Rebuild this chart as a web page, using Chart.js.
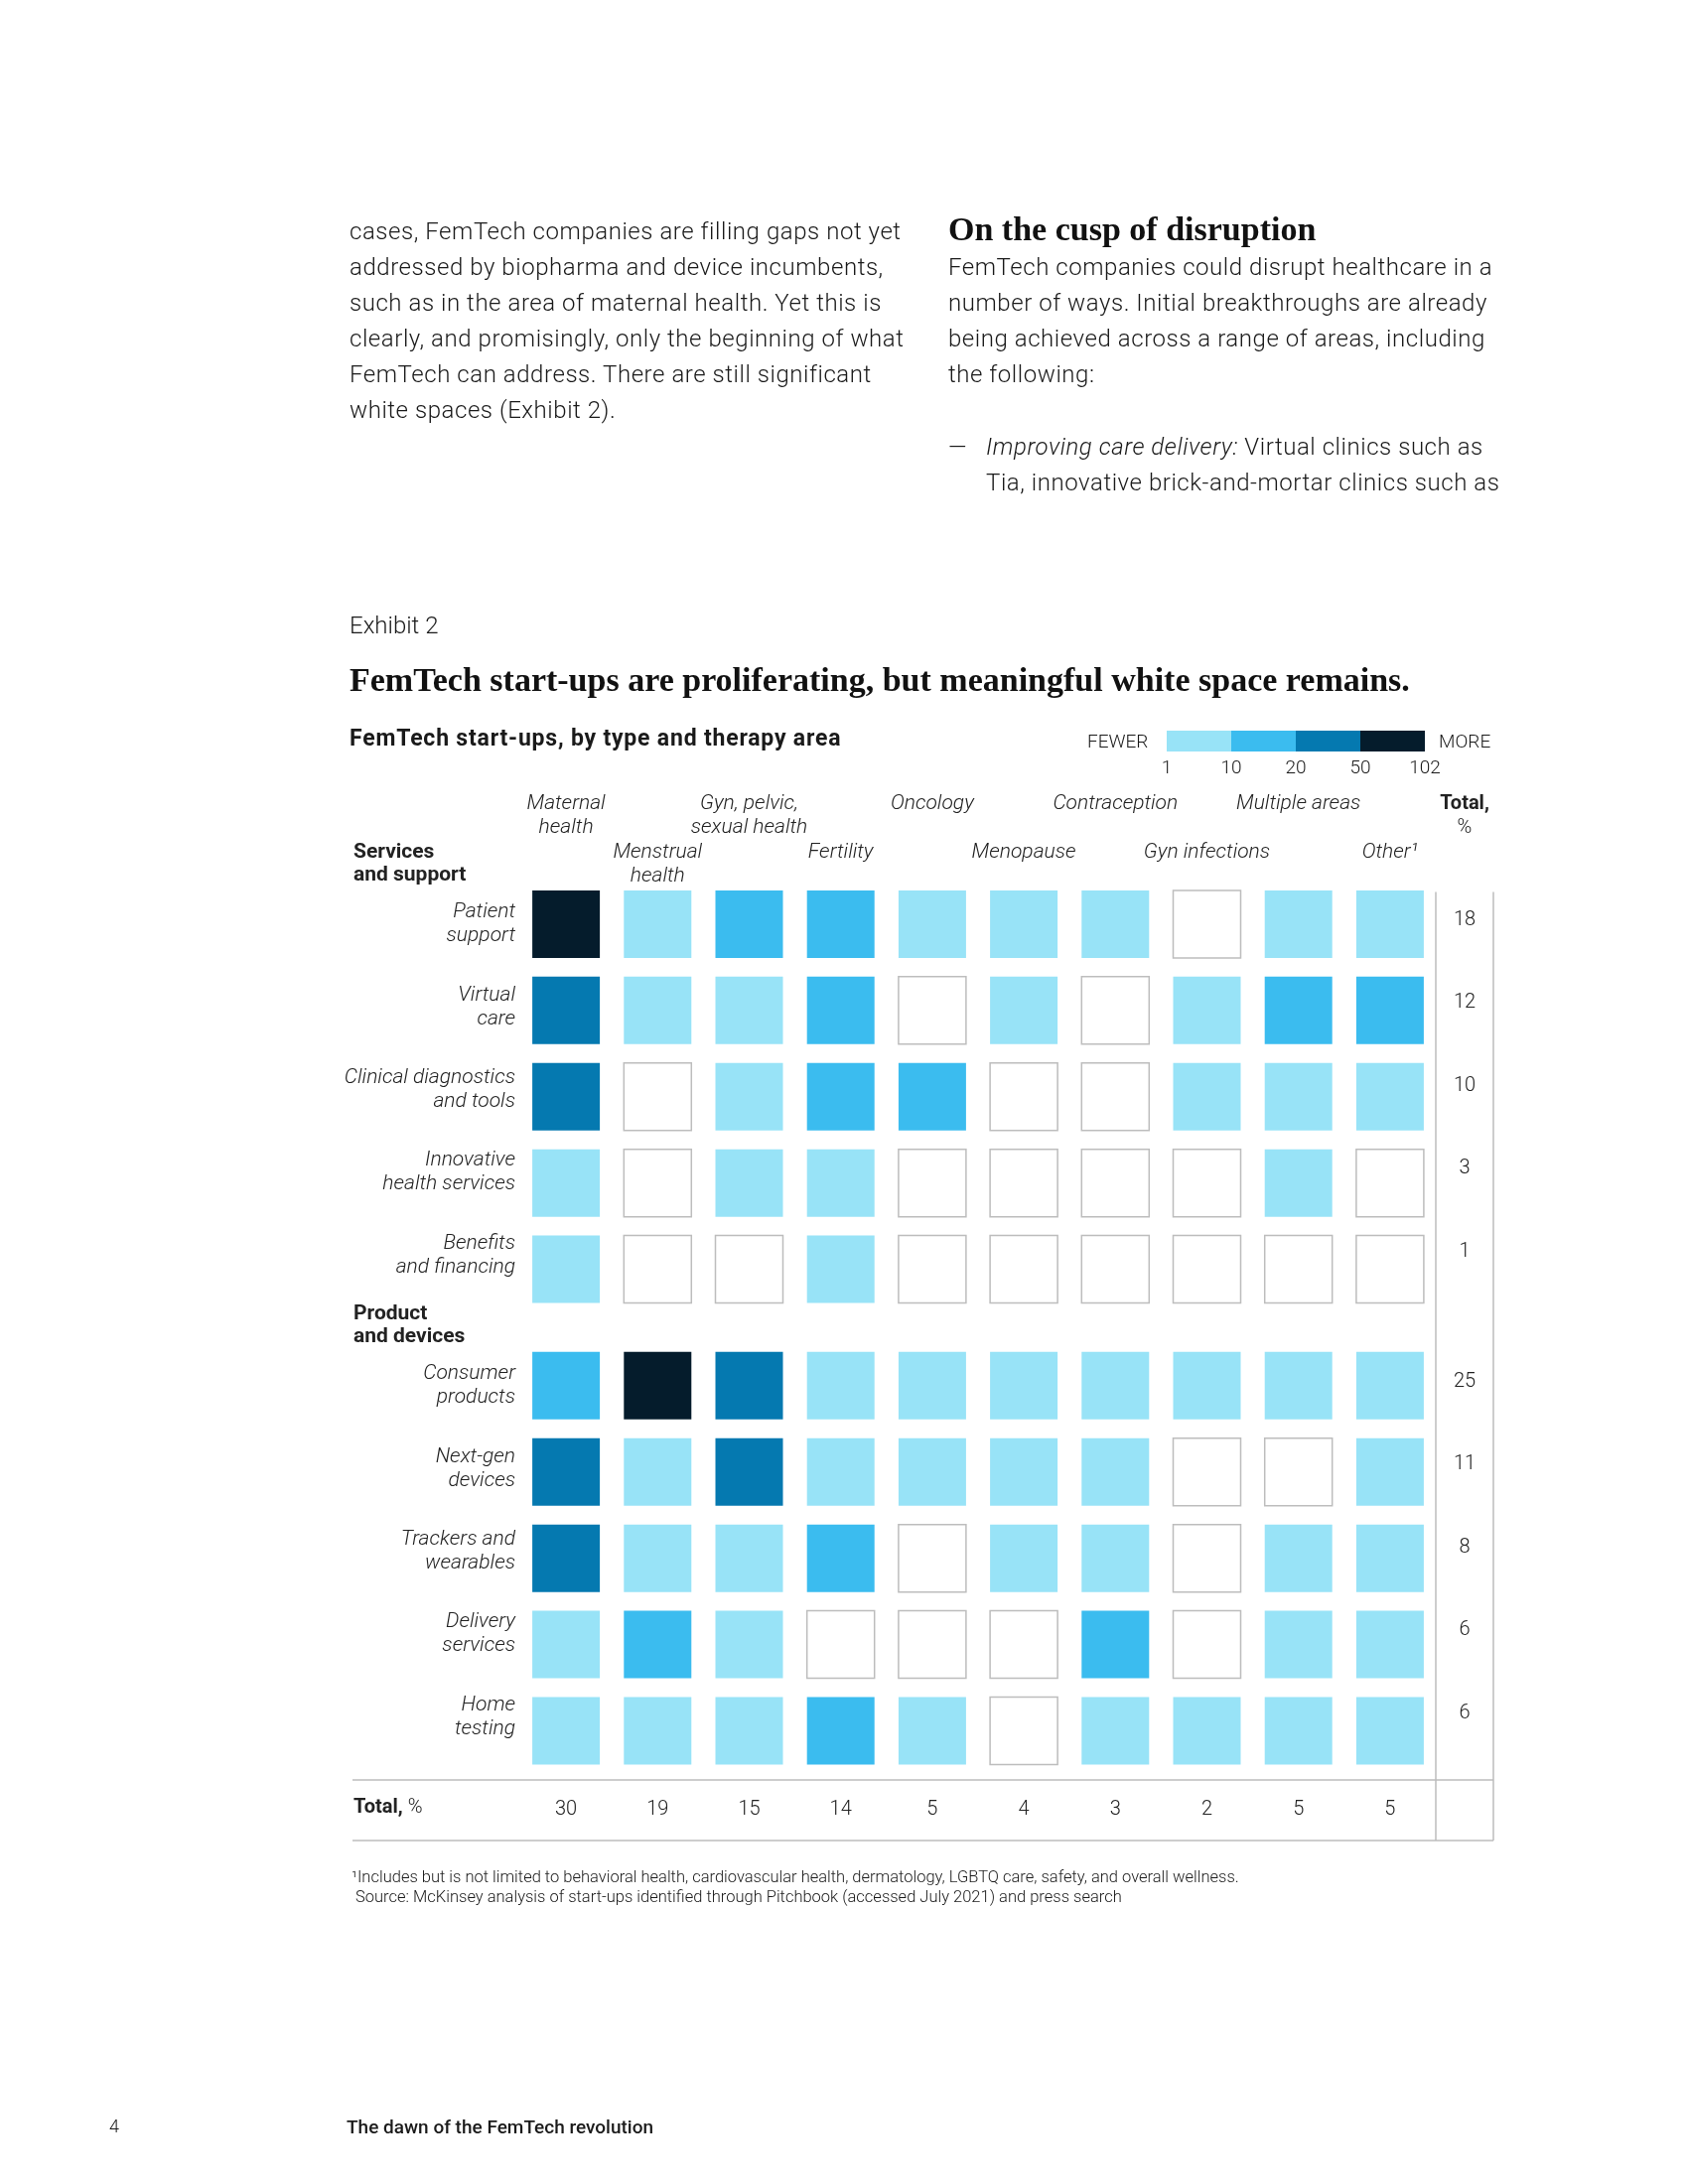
<!DOCTYPE html>
<html>
<head>
<meta charset="utf-8">
<script src="https://cdn.jsdelivr.net/npm/chart.js@4.4.1/dist/chart.umd.min.js"></script>
<style>
html, body { margin: 0; padding: 0; background: #fff; }
#page { position: relative; width: 1700px; height: 2200px; overflow: hidden;
        font-family: Roboto, "Liberation Sans", sans-serif; color: #1a1a1a; }
#page canvas { position: absolute; left: 0; top: 0; }
.t { position: absolute; white-space: nowrap; }
.body { font-size: 24px; line-height: 36px; font-weight: 300; letter-spacing: 0.55px; }
.serif { font-family: "Liberation Serif", serif; font-weight: bold; color: #111; }
#legend .seg { position: absolute; height: 21px; top: 736px; }
#legend .lab { position: absolute; top: 761px; font-size: 19px; font-weight: 300; transform: translateX(-50%); }
</style>
</head>
<body>
<div id="page">
  <canvas id="heat" width="1700" height="2200"></canvas>

  <div class="t body" style="left:352px; top:215px;">
    cases, FemTech companies are filling gaps not yet<br>
    addressed by biopharma and device incumbents,<br>
    such as in the area of maternal health. Yet this is<br>
    clearly, and promisingly, only the beginning of what<br>
    FemTech can address. There are still significant<br>
    white spaces (Exhibit 2).
  </div>

  <div class="t serif" style="left:955px; top:211px; font-size:34px; line-height:40px;">On the cusp of disruption</div>
  <div class="t body" style="left:955px; top:251px;">
    FemTech companies could disrupt healthcare in a<br>
    number of ways. Initial breakthroughs are already<br>
    being achieved across a range of areas, including<br>
    the following:
  </div>
  <div class="t body" style="left:955px; top:432px;">—</div>
  <div class="t body" style="left:993px; top:432px;">
    <i>Improving care delivery:</i> Virtual clinics such as<br>
    Tia, innovative brick-and-mortar clinics such as
  </div>

  <div class="t" style="left:352px; top:616px; font-size:24px; font-weight:300;">Exhibit 2</div>
  <div class="t serif" style="left:352px; top:666px; font-size:34px;">FemTech start-ups are proliferating, but meaningful white space remains.</div>
  <div class="t" style="left:352px; top:730px; font-size:23px; font-weight:bold; letter-spacing:0.8px;">FemTech start-ups, by type and therapy area</div>

  <div id="legend">
    <div class="t" style="left:1095px; top:735px; font-size:19px; font-weight:300;">FEWER</div>
    <div class="t" style="left:1449px; top:735px; font-size:19px; font-weight:300;">MORE</div>
  </div>

  <div class="t" style="left:354px; top:1881px; font-size:16.5px; font-weight:300; line-height:20px;">
    ¹Includes but is not limited to behavioral health, cardiovascular health, dermatology, LGBTQ care, safety, and overall wellness.<br>
    &nbsp;Source: McKinsey analysis of start-ups identified through Pitchbook (accessed July 2021) and press search
  </div>

  <div class="t" style="left:110px; top:2131px; font-size:18px; font-weight:300;">4</div>
  <div class="t" style="left:349px; top:2131px; font-size:19px; font-weight:500;">The dawn of the FemTech revolution</div>
</div>

<script>
// --- DATI ---
const therapyAreas = ['Maternal health', 'Menstrual health', 'Gyn, pelvic, sexual health', 'Fertility', 'Oncology',
                      'Menopause', 'Contraception', 'Gyn infections', 'Multiple areas', 'Other'];
const areaHeaderLines = [['Maternal', 'health'], ['Menstrual', 'health'], ['Gyn, pelvic,', 'sexual health'], ['Fertility'],
                         ['Oncology'], ['Menopause'], ['Contraception'], ['Gyn infections'], ['Multiple areas'], ['Other¹']];

const startupTypes = ['Patient support', 'Virtual care', 'Clinical diagnostics and tools', 'Innovative health services',
                      'Benefits and financing', 'Consumer products', 'Next-gen devices', 'Trackers and wearables',
                      'Delivery services', 'Home testing'];
const typeLabelLines = [['Patient', 'support'], ['Virtual', 'care'], ['Clinical diagnostics', 'and tools'],
                        ['Innovative', 'health services'], ['Benefits', 'and financing'], ['Consumer', 'products'],
                        ['Next-gen', 'devices'], ['Trackers and', 'wearables'], ['Delivery', 'services'], ['Home', 'testing']];
const typeGroup = [0, 0, 0, 0, 0, 1, 1, 1, 1, 1];
const groupLabelLines = [['Services', 'and support'], ['Product', 'and devices']];

// number of start-ups per type (rows) and therapy area (columns), estimated from the colour bins
const startupCounts = [
  [60,   6, 14, 15,  5, 6, 4, 0,  6,  8],  // Patient support
  [30,   5,  4, 13,  0, 3, 0, 3, 12, 13],  // Virtual care
  [28,   0,  5, 12, 11, 0, 0, 5,  4,  5],  // Clinical diagnostics
  [ 8,   0,  4,  5,  0, 0, 0, 0,  4,  0],  // Innovative health services
  [ 4,   0,  0,  3,  0, 0, 0, 0,  0,  0],  // Benefits and financing
  [16, 102, 30,  6,  5, 5, 3, 3,  2,  4],  // Consumer products
  [24,   5, 26,  7,  4, 5, 3, 0,  0,  3],  // Next-gen devices
  [22,   6,  5, 11,  0, 3, 2, 0,  3,  4],  // Trackers and wearables
  [ 6,  13,  8,  0,  0, 0, 10, 0, 2,  3],  // Delivery services
  [ 6,   5,  7, 12,  2, 0, 1, 2,  3,  4]   // Home testing
];

const rowTotalPct = [18, 12, 10, 3, 1, 25, 11, 8, 6, 6];
const colTotalPct = [30, 19, 15, 14, 5, 4, 3, 2, 5, 5];

const legendBreaks = [1, 10, 20, 50, 102];
const binColors = ['#98e3f7', '#3bbcef', '#0579b0', '#051c2c'];

// --- SUPPORTO ---
const groupGap = 0.35;      // extra row space before "Product and devices"
const cellSide = 68;
const lineGrey = '#bdbdbd';
const font = 'Roboto, "Liberation Sans", sans-serif';

function colorFor(v) {
  if (v <= 0) return '#ffffff';
  for (let i = 0; i < binColors.length; i++) {
    if (v < legendBreaks[i + 1]) return binColors[i];
  }
  return binColors[binColors.length - 1];
}

const rowPos = startupTypes.map((_, i) => i + typeGroup[i] * groupGap);

const points = [], fills = [], strokes = [], strokeWidths = [];
startupCounts.forEach((row, r) => {
  row.forEach((v, c) => {
    points.push({ x: c, y: rowPos[r] });
    fills.push(colorFor(v));
    strokes.push(v > 0 ? colorFor(v) : lineGrey);
    strokeWidths.push(v > 0 ? 0 : 1.5);
  });
});

// legend built from the bins
const legendEl = document.getElementById('legend');
const segW = 65, legLeft = 1175;
binColors.forEach((col, i) => {
  const s = document.createElement('div');
  s.className = 'seg';
  s.style.left = (legLeft + i * segW) + 'px';
  s.style.width = segW + 'px';
  s.style.background = col;
  legendEl.appendChild(s);
});
legendBreaks.forEach((b, i) => {
  const l = document.createElement('div');
  l.className = 'lab';
  l.style.left = (legLeft + i * segW) + 'px';
  l.textContent = b;
  legendEl.appendChild(l);
});

// --- TESTI E LINEE DEL GRAFICO ---
const labelsPlugin = {
  id: 'heatLabels',
  afterDraw(chart) {
    const { ctx, chartArea, scales: { x, y } } = chart;
    const pitch = y.getPixelForValue(1) - y.getPixelForValue(0);
    const totalX = 1475;
    const leftX = 356;
    const lineR = 1504;

    ctx.save();
    ctx.textBaseline = 'middle';
    ctx.fillStyle = '#222';

    // column headers, two staggered tiers
    ctx.font = 'italic 300 21px ' + font;
    ctx.textAlign = 'center';
    areaHeaderLines.forEach((lines, c) => {
      const cx = x.getPixelForValue(c);
      const y0 = chartArea.top - (c % 2 === 0 ? 78 : 29);
      lines.forEach((ln, k) => ctx.fillText(ln, cx, y0 + k * 24));
    });

    // Total, % header
    ctx.font = 'bold 20px ' + font;
    ctx.fillText('Total,', totalX, chartArea.top - 78);
    ctx.font = '300 20px ' + font;
    ctx.fillText('%', totalX, chartArea.top - 54);

    // group headers
    ctx.textAlign = 'left';
    ctx.font = 'bold 21px ' + font;
    [0, 1].forEach(g => {
      const first = typeGroup.indexOf(g);
      const gy = y.getPixelForValue(rowPos[first]);
      groupLabelLines[g].forEach((ln, k) => ctx.fillText(ln, leftX, gy - 72 + k * 23));
    });

    // row labels and row totals
    startupTypes.forEach((_, r) => {
      const first = typeGroup.indexOf(typeGroup[r]);
      const ty = y.getPixelForValue(rowPos[first]) + (r - first) * pitch * 0.96;
      ctx.font = 'italic 300 21px ' + font;
      ctx.textAlign = 'right';
      const lines = typeLabelLines[r];
      lines.forEach((ln, k) => ctx.fillText(ln, chartArea.left - 5, ty - 12 + k * 24));
      ctx.font = '300 20px ' + font;
      ctx.textAlign = 'center';
      ctx.fillText(String(rowTotalPct[r]), totalX, ty - 4);
    });

    // bottom total row
    const by = chartArea.bottom + 28;
    ctx.textAlign = 'left';
    ctx.font = 'bold 20px ' + font;
    ctx.fillText('Total,', leftX, by);
    const tw = ctx.measureText('Total, ').width;
    ctx.font = '300 20px ' + font;
    ctx.fillText('%', leftX + tw, by);
    ctx.textAlign = 'center';
    colTotalPct.forEach((v, c) => ctx.fillText(String(v), x.getPixelForValue(c), by + 2));

    // lines
    ctx.strokeStyle = lineGrey;
    ctx.lineWidth = 1.5;
    ctx.beginPath();
    ctx.moveTo(leftX - 1, chartArea.bottom); ctx.lineTo(lineR, chartArea.bottom);
    ctx.moveTo(leftX - 1, chartArea.bottom + 61); ctx.lineTo(lineR, chartArea.bottom + 61);
    ctx.moveTo(chartArea.right, chartArea.top + 11); ctx.lineTo(chartArea.right, chartArea.bottom + 61);
    ctx.moveTo(lineR, chartArea.top + 11); ctx.lineTo(lineR, chartArea.bottom + 61);
    ctx.stroke();
    ctx.restore();
  }
};

new Chart(document.getElementById('heat'), {
  type: 'scatter',
  data: {
    datasets: [{
      data: points,
      pointStyle: 'rect',
      pointRadius: cellSide / Math.SQRT2,
      pointBackgroundColor: fills,
      pointBorderColor: strokes,
      pointBorderWidth: strokeWidths,
      clip: false
    }]
  },
  options: {
    responsive: false,
    animation: false,
    devicePixelRatio: 1,
    events: [],
    layout: { padding: { left: 524, right: 254, top: 887.5, bottom: 407 } },
    scales: {
      x: { type: 'linear', min: -0.5, max: 9.5, display: false },
      y: { type: 'linear', min: -0.5, max: 9.92, reverse: true, display: false }
    },
    plugins: { legend: { display: false }, tooltip: { enabled: false } }
  },
  plugins: [labelsPlugin]
});
</script>
</body>
</html>
